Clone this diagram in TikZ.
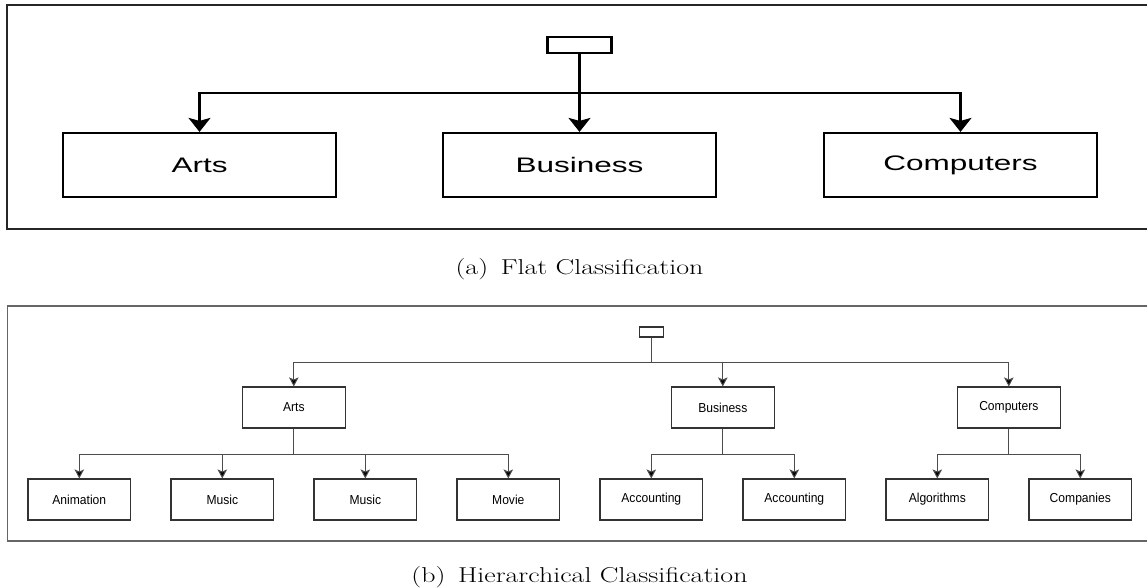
\documentclass[tikz,border=0pt]{standalone}
\usepackage{fontspec}
\setsansfont{Liberation Sans}
\usepackage{graphicx}
\usetikzlibrary{arrows.meta}
\newcommand\bigtxt[1]{\scalebox{1.5}[1]{\sffamily\fontsize{21}{21}\selectfont #1}}
\newcommand\smtxt[1]{\scalebox{0.93}[1]{\sffamily\fontsize{13}{13}\selectfont #1}}
\newcommand\captxt[1]{\scalebox{1.3}[1]{\fontsize{21.5}{22}\selectfont #1}}
\tikzset{
  topbox/.style={draw=black, line width=2.2pt, minimum width=273pt, minimum height=64pt, inner sep=0pt},
  toproot/.style={draw=black, line width=2.4pt, minimum width=64pt, minimum height=16pt, inner sep=0pt},
  topline/.style={draw=black, line width=2.2pt},
  toparr/.style={topline, -{Stealth[length=14pt,width=22pt,inset=3pt]}},
  topframe/.style={draw=black!85, line width=1.4pt},
  botbox/.style={draw=black!80, line width=1.1pt, minimum width=102.6pt, minimum height=41pt, inner sep=0pt},
  botroot/.style={draw=black!80, line width=1.1pt, minimum width=24pt, minimum height=10pt, inner sep=0pt},
  botline/.style={draw=black!70, line width=1pt},
  botarr/.style={botline, -{Stealth[length=9pt,width=9.5pt,inset=2pt,fill=black]}},
  botframe/.style={draw=black!60, line width=1.2pt},
  captionstyle/.style={anchor=base, inner sep=0pt}
}
\begin{document}
\begin{tikzpicture}[x=1pt,y=-1pt]
\useasboundingbox (0,0) rectangle (1147,588);
% ---------- (a) flat ----------
\draw[topframe] (1147,5) -- (7,5) -- (7,229) -- (1147,229);
\node[toproot] (aroot) at (579.5,45) {};
\node[topbox] (aarts) at (199.5,165) {\bigtxt{Arts}};
\node[topbox] (abus)  at (579.5,165) {\bigtxt{Business}};
\node[topbox] (acomp) at (960.5,165) {\bigtxt{Computers}};
\coordinate (aj) at (579.5,93);
\draw[toparr] (aroot.south) -- (abus.north);
\draw[toparr] (aj) -| (aarts.north);
\draw[toparr] (aj) -| (acomp.north);
\node[captionstyle] (capa) at (579.5,274) {\captxt{(a)\hspace{0.45em}Flat Classification}};
% ---------- (b) hierarchical ----------
\draw[botframe] (1147,306) -- (7.4,306) -- (7.4,541) -- (1147,541);
\node[botroot] (broot) at (651.3,332) {};
\node[botbox] (barts) at (293.8,407.5) {\smtxt{Arts}};
\node[botbox] (bbus)  at (722.8,407.5) {\smtxt{Business}};
\node[botbox] (bcomp) at (1008.8,407.5) {\smtxt{Computers}};
\node[botbox] (l1) at (79.3,499.5) {\smtxt{Animation}};
\node[botbox] (l2) at (222.3,499.5) {\smtxt{Music}};
\node[botbox] (l3) at (365.3,499.5) {\smtxt{Music}};
\node[botbox] (l4) at (508.3,499.5) {\smtxt{Movie}};
\node[botbox] (l5) at (651.3,499.5) {\smtxt{Accounting}};
\node[botbox] (l6) at (794.3,499.5) {\smtxt{Accounting}};
\node[botbox] (l7) at (937.3,499.5) {\smtxt{Algorithms}};
\node[botbox] (l8) at (1080.3,499.5) {\smtxt{Companies}};
\coordinate (bj) at (651.3,362);
\coordinate (artsj) at (293.8,454);
\coordinate (busj) at (722.8,454);
\coordinate (compj) at (1008.8,454);
\draw[botline] (broot.south) -- (bj);
\draw[botarr] (bj) -| (barts.north);
\draw[botarr] (bj) -| (bbus.north);
\draw[botarr] (bj) -| (bcomp.north);
\draw[botline] (barts.south) -- (artsj);
\draw[botarr] (artsj) -| (l1.north);
\draw[botarr] (artsj) -| (l2.north);
\draw[botarr] (artsj) -| (l3.north);
\draw[botarr] (artsj) -| (l4.north);
\draw[botline] (bbus.south) -- (busj);
\draw[botarr] (busj) -| (l5.north);
\draw[botarr] (busj) -| (l6.north);
\draw[botline] (bcomp.south) -- (compj);
\draw[botarr] (compj) -| (l7.north);
\draw[botarr] (compj) -| (l8.north);
\node[captionstyle] (capb) at (579.5,582) {\captxt{(b)\hspace{0.45em}Hierarchical Classification}};
\end{tikzpicture}
\end{document}
